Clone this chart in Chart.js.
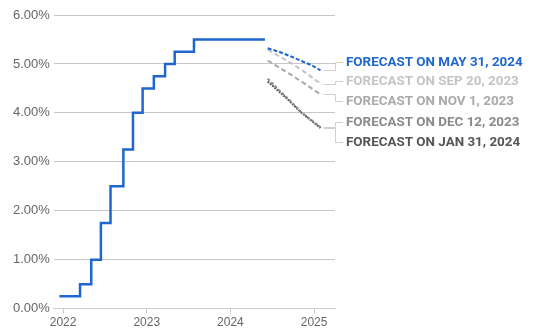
<!DOCTYPE html>
<html>
<head>
<meta charset="utf-8">
<script src="https://cdn.jsdelivr.net/npm/chart.js@4"></script>
<style>
  html, body { margin: 0; padding: 0; background: #fff; }
  #wrap { width: 534px; height: 334px; }
</style>
</head>
<body>
<div id="wrap"><canvas id="chart" width="534" height="334"></canvas></div>
<script>
// fed funds target (upper bound), dates of changes
const stepDates = ['2021-12-16', '2022-03-16', '2022-05-04', '2022-06-15', '2022-07-27', '2022-09-21',
    '2022-11-02', '2022-12-14', '2023-02-01', '2023-03-22', '2023-05-03', '2023-07-26', '2024-05-31']
const stepRates = [0.25, 0.50, 1.00, 1.75, 2.50, 3.25, 4.00, 4.50, 4.75, 5.00, 5.25, 5.50, 5.50]

// forecast points (FOMC meeting dates)
const forecastDates = ['2024-06-12', '2024-07-31', '2024-09-18', '2024-11-07', '2024-12-18', '2025-01-29']
const forecastNames = ['FORECAST ON MAY 31, 2024', 'FORECAST ON SEP 20, 2023', 'FORECAST ON NOV 1, 2023',
    'FORECAST ON DEC 12, 2023', 'FORECAST ON JAN 31, 2024']
const forecastMay31 = [5.32, 5.25, 5.16, 5.06, 4.98, 4.87]
const forecastSep20 = [5.29, 5.16, 5.03, 4.88, 4.74, 4.60]
const forecastNov1 = [5.07, 4.93, 4.79, 4.64, 4.51, 4.38]
const forecastDec12 = [4.70, 4.47, 4.25, 4.01, 3.86, 3.71]
const forecastJan31 = [4.64, 4.44, 4.23, 4.00, 3.85, 3.69]

const yearTicks = [2022, 2023, 2024, 2025]

const colors = ['#1f66d1', '#c4c4c4', '#a9a9a9', '#8a8a8a', '#555555']
const dashes = [[4, 2], [5, 3], [5, 3], [3, 2], [2, 1]]
const labelY = [62, 81, 101, 122, 142]

function toYear(s) {
    var d = new Date(s + 'T00:00:00Z')
    var y = d.getUTCFullYear()
    var a = Date.UTC(y, 0, 1), b = Date.UTC(y + 1, 0, 1)
    return y + (d.getTime() - a) / (b - a)
}

function pts(dates, vals) {
    return dates.map((d, i) => ({x: toYear(d), y: vals[i]}))
}

const forecasts = [forecastMay31, forecastSep20, forecastNov1, forecastDec12, forecastJan31]

var datasets = [{
    label: 'Fed funds rate',
    data: pts(stepDates, stepRates),
    stepped: 'before',
    borderColor: '#1f66d1',
    borderWidth: 2.5,
    pointRadius: 0,
    fill: false
}]
forecasts.forEach((f, i) => {
    datasets.push({
        label: forecastNames[i],
        data: pts(forecastDates, f),
        borderColor: colors[i],
        borderWidth: 2,
        borderDash: dashes[i],
        pointRadius: 0,
        fill: false,
        tension: 0
    })
})

const labelPlugin = {
    id: 'forecastLabels',
    afterDraw(chart) {
        var ctx = chart.ctx
        var elbow = chart.chartArea.right
        ctx.save()
        for (let i = 0; i < forecastNames.length; i++) {
            var meta = chart.getDatasetMeta(i + 1)
            var last = meta.data[meta.data.length - 1]
            ctx.strokeStyle = '#d0d0d0'
            ctx.lineWidth = 1
            ctx.beginPath()
            ctx.moveTo(last.x + 3, Math.round(last.y) + 0.5)
            ctx.lineTo(elbow + 0.5, Math.round(last.y) + 0.5)
            ctx.lineTo(elbow + 0.5, labelY[i] + 0.5)
            ctx.lineTo(elbow + 8, labelY[i] + 0.5)
            ctx.stroke()
            ctx.fillStyle = colors[i]
            ctx.font = 'bold 13.4px "Liberation Sans Narrow", "Roboto", sans-serif'
            ctx.textBaseline = 'middle'
            ctx.textAlign = 'left'
            ctx.fillText(forecastNames[i], elbow + 11, labelY[i] + 1)
        }
        ctx.restore()
    }
}

new Chart(document.getElementById('chart'), {
    type: 'line',
    data: {datasets: datasets},
    options: {
        responsive: false,
        animation: false,
        layout: {padding: {left: 9, right: 199, top: 15, bottom: 2}},
        plugins: {legend: {display: false}, tooltip: {enabled: false}},
        scales: {
            x: {
                type: 'linear',
                min: 2021.89,
                max: 2025.25,
                afterBuildTicks: (axis) => { axis.ticks = yearTicks.map(v => ({value: v})) },
                ticks: {
                    color: '#666',
                    font: {family: 'Liberation Sans', size: 12},
                    padding: 2,
                    callback: (v) => String(v),
                    maxRotation: 0
                },
                grid: {drawOnChartArea: false, drawTicks: true, tickLength: 5, color: '#cccccc'},
                border: {display: true, color: '#cccccc'}
            },
            y: {
                min: 0,
                max: 6,
                ticks: {
                    stepSize: 1,
                    color: '#666',
                    font: {family: 'Liberation Sans', size: 13},
                    padding: 4,
                    callback: (v) => v.toFixed(2) + '%'
                },
                grid: {color: '#c8c8c8', drawTicks: false},
                border: {display: false}
            }
        }
    },
    plugins: [labelPlugin]
})
</script>
</body>
</html>
